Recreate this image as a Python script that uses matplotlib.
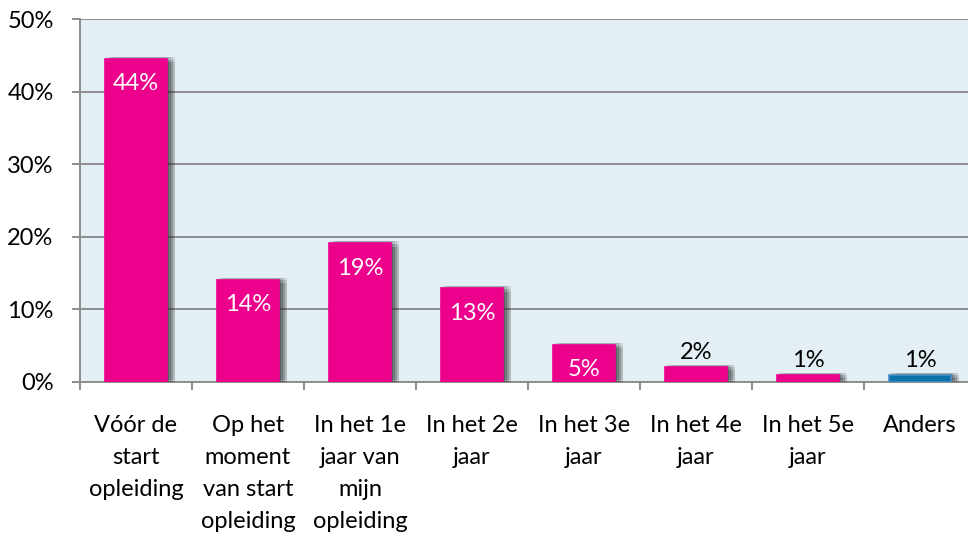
import numpy as np
import matplotlib
matplotlib.use("Agg")
import matplotlib.pyplot as plt
import matplotlib.patheffects as pe
from matplotlib.ticker import FixedLocator, PercentFormatter

plt.rcParams['font.family'] = ['Lato', 'DejaVu Sans']

categories = ["Vóór de\nstart\nopleiding", "Op het\nmoment\nvan start\nopleiding",
              "In het 1e\njaar van\nmijn\nopleiding", "In het 2e\njaar",
              "In het 3e\njaar", "In het 4e\njaar", "In het 5e\njaar", "Anders"]
values = [44.5, 14.1, 19.1, 12.9, 5.1, 2.1, 1.0, 1.0]
labels = ["44%", "14%", "19%", "13%", "5%", "2%", "1%", "1%"]
colors = ["#ec008c"] * 7 + ["#0a72ab"]
edges = ["#ec008c"] * 7 + ["#4a8cc4"]

fig = plt.figure(figsize=(9.68, 5.35), dpi=100)
ax = fig.add_axes([80 / 968, 153 / 535, 896 / 968, 363 / 535])
ax.set_facecolor("#e3eff5")

x = np.arange(len(values))
# soft grey shadow, built from several offset copies
shadow = [pe.SimplePatchShadow(offset=(dx, dy), shadow_rgbFace="#303030", alpha=0.10)
          for dx in (1, 2.5, 4, 5.5) for dy in (1.5, -0.5, -2.5)] + [pe.Normal()]
bars = ax.bar(x, values, width=0.56, color=colors, edgecolor=edges, linewidth=1.2, zorder=3)
for b in bars:
    b.set_path_effects(shadow)

for xi, v, lab in zip(x, values, labels):
    if v > 4:
        ax.annotate(lab, (xi, v), xytext=(0, -18), textcoords="offset points",
                    ha="center", va="center", color="white", fontsize=17, zorder=4)
    else:
        ax.annotate(lab, (xi, v), xytext=(0, 3), textcoords="offset points",
                    ha="center", va="bottom", color="black", fontsize=17, zorder=4)

ax.set_xlim(-0.5, len(values) - 0.5)
ax.set_ylim(0, 50)
ax.yaxis.set_major_locator(FixedLocator([0, 10, 20, 30, 40, 50]))
ax.yaxis.set_major_formatter(PercentFormatter(decimals=0))
ax.grid(axis="y", color="#8c8c8c", linewidth=1.4, zorder=1)
ax.set_axisbelow(True)

ax.set_xticks(x)
ax.set_xticklabels(categories, linespacing=1.64)
ax.set_xticks(np.arange(len(values) + 1) - 0.5, minor=True)
ax.tick_params(axis="x", which="major", length=0, pad=24, labelsize=17)
ax.tick_params(axis="x", which="minor", length=6, width=1.4, color="#8c8c8c")
ax.tick_params(axis="y", length=6, width=1.4, color="#8c8c8c", pad=13, labelsize=17)

for s in ("top", "right"):
    ax.spines[s].set_visible(False)
for s in ("left", "bottom"):
    ax.spines[s].set_color("#8c8c8c")
    ax.spines[s].set_linewidth(1.4)

fig.savefig("out.png", dpi=100)
